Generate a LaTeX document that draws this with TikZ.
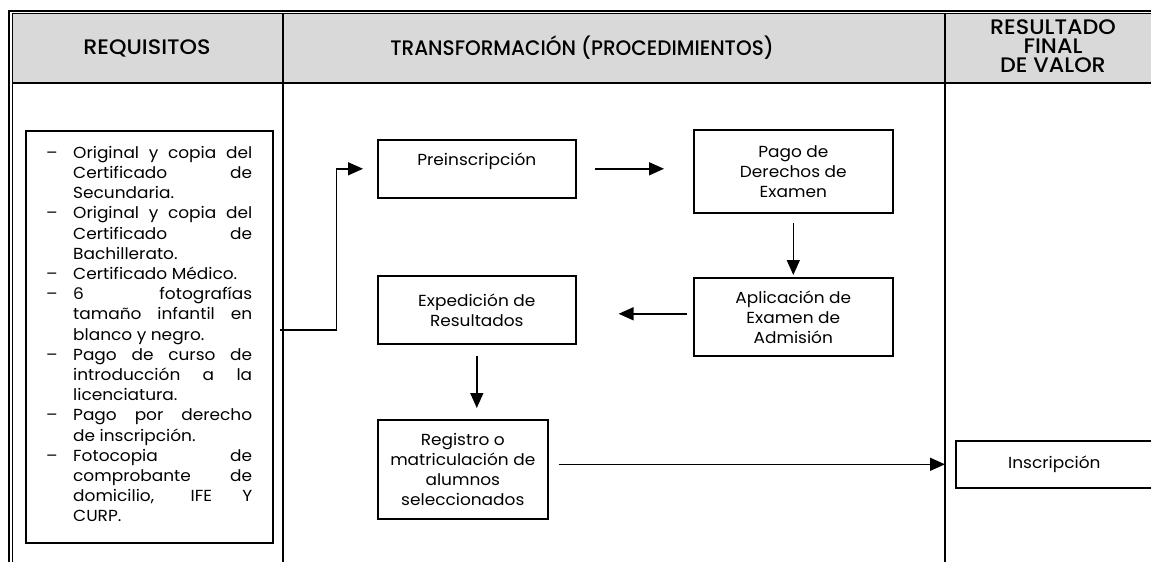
\documentclass[tikz,border=0pt]{standalone}
\usepackage{fontspec}
\setmainfont{Poppins}[FakeStretch=1.06]
\newfontfamily\hdfont{Poppins Medium}[FakeStretch=1.06]
\usetikzlibrary{arrows.meta,calc}
\definecolor{hdgray}{HTML}{D9D9D9}
\newcommand\reqJ[1]{\makebox[27pt][l]{\textendash}\makebox[179pt][s]{#1}}
\newcommand\reqN[1]{\makebox[27pt][l]{\textendash}#1}
\newcommand\conJ[1]{\hspace*{27pt}\makebox[179pt][s]{#1}}
\newcommand\conN[1]{\hspace*{27pt}#1}
\tikzset{
  flowbox/.style={draw, line width=1.6pt, inner sep=0pt, align=center,
    font=\fontsize{16}{20}\selectfont},
  arr/.style={line width=1.5pt, -{Triangle[length=15pt,width=13pt]}},
  tline/.style={line width=2pt},
  hdtext/.style={font=\hdfont\fontsize{21}{19}\selectfont, align=center, inner sep=0pt}
}
\begin{document}
\begin{tikzpicture}[x=1pt,y=-1pt]
\useasboundingbox (0,0) rectangle (1151,562);
\clip (0,0) rectangle (1151,562);
% header
\fill[hdgray] (13,14) rectangle (1151,82);
\draw[line width=2pt] (9,562) -- (9,10.5) -- (1151,10.5);
\draw[line width=1pt] (12.5,562) -- (12.5,13.5) -- (1151,13.5);
\draw[tline] (12.5,83) -- (1151,83);
\draw[tline] (283,13.5) -- (283,562);
\draw[tline] (945,13.5) -- (945,562);
\node[hdtext] (h1) at (147,48) {REQUISITOS};
\node[hdtext] (h2) at (582,48) {\scalebox{0.9}[1]{TRANSFORMACIÓN (PROCEDIMIENTOS)}};
\node[hdtext] (h3) at (1053,46) {RESULTADO\\FINAL\\DE VALOR};
% requisitos box
\node[draw, line width=1.6pt, inner sep=0pt, minimum width=247pt, minimum height=412pt, anchor=north west] (req) at (25,130) {};
\node[anchor=north west, inner sep=0pt, align=left, font=\fontsize{16}{20.2}\selectfont] (reqtxt) at (46,146) {%
\reqJ{Original y copia del}\\
\conJ{Certificado de}\\
\conN{Secundaria.}\\
\reqJ{Original y copia del}\\
\conJ{Certificado de}\\
\conN{Bachillerato.}\\
\reqN{Certificado Médico.}\\
\reqJ{6 fotografías}\\
\conJ{tamaño infantil en}\\
\conN{blanco y negro.}\\
\reqJ{Pago de curso de}\\
\conJ{introducción a la}\\
\conN{licenciatura.}\\
\reqJ{Pago por derecho}\\
\conN{de inscripción.}\\
\reqJ{Fotocopia de}\\
\conJ{comprobante de}\\
\conJ{domicilio, IFE Y}\\
\conN{CURP.}};
% flow boxes
\node[flowbox, minimum width=198pt, minimum height=58pt, anchor=north west] (pre) at (377,139) {Preinscripción\\\mbox{}};
\node[flowbox, minimum width=199pt, minimum height=83pt, anchor=north west] (pago) at (693,129) {Pago de\\Derechos de\\Examen};
\node[flowbox, minimum width=199pt, minimum height=78pt, anchor=north west] (apl) at (693,277) {Aplicación de\\Examen de\\Admisión};
\node[flowbox, minimum width=198pt, minimum height=68pt, anchor=north west] (exp) at (377,275) {Expedición de\\Resultados};
\node[flowbox, minimum width=170pt, minimum height=99pt, anchor=north west] (reg) at (377,419) {Registro o\\matriculación de\\alumnos\\seleccionados};
\node[flowbox, minimum width=197pt, minimum height=47pt, anchor=north west] (ins) at (955,440) {Inscripción};
% connectors
\draw[arr] ([xshift=6pt,yshift=7pt]req.east) -- ++(57,0) |- ([xshift=-14pt]pre.west);
\draw[arr] ([xshift=18pt]pre.east) -- ($(pre.east -| pago.west)+(-29,0)$);
\draw[arr] ([yshift=-9pt]pago.south) -- ([yshift=2pt]apl.north);
\coordinate (a1) at ([xshift=-6pt,yshift=3pt]apl.west);
\draw[arr] (a1) -- ($(a1 -| exp.east)+(42,0)$);
\draw[arr] ([yshift=-11pt]exp.south) -- ($(exp.south |- reg.north)+(0,-11)$);
\draw[arr] ($(reg.east |- ins.west)+(10,0)$) -- ([xshift=-10pt]ins.west);
\end{tikzpicture}
\end{document}
